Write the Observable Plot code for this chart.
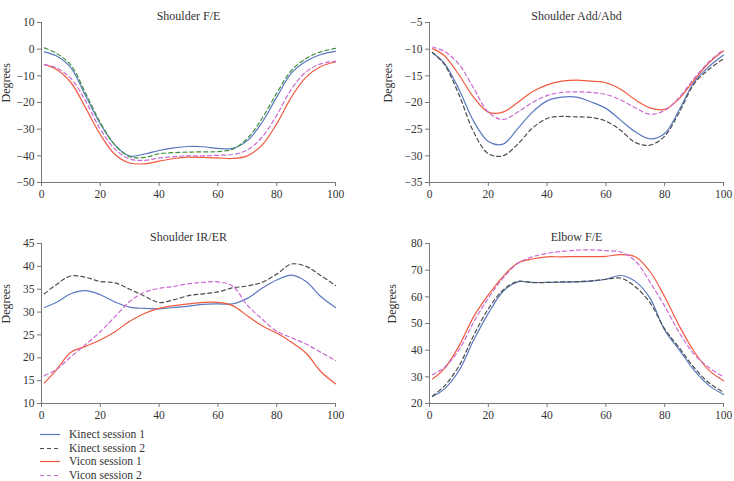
<!DOCTYPE html>
<html>
<head>
<meta charset="utf-8">
<script src="https://cdn.jsdelivr.net/npm/d3@7"></script>
<script src="https://cdn.jsdelivr.net/npm/@observablehq/plot@0.6"></script>
<style>
  body { margin: 0; background: #fff; }
  #chart { position: relative; width: 734px; height: 481px; overflow: hidden; font-family: "Liberation Serif", serif; }
  .panel { position: absolute; }
  .legend { position: absolute; left: 40px; top: 428px; font-size: 11.6px; color: #333; }
  .legend .row { height: 13.5px; line-height: 13.5px; display: flex; align-items: center; white-space: nowrap; }
  .legend svg { margin-right: 9px; }
</style>
</head>
<body>
<div id="chart"></div>
<script>
// Percent of movement cycle
const pct = [1, 5, 10, 15, 20, 25, 30, 35, 40, 45, 50, 55, 60, 65, 70, 75, 80, 85, 90, 95, 100];

const seriesNames = ["Kinect session 1", "Kinect session 2", "Vicon session 1", "Vicon session 2"];
const xTicks = [0, 20, 40, 60, 80, 100];

// Shoulder flexion/extension (degrees)
const feKinect1 = [-1, -2.5, -7, -17.5, -28, -36, -40.1, -39.3, -38, -37, -36.5, -36.6, -37.2, -37.2, -34.3, -27.5, -18, -9, -4.5, -2, -0.8];
const feKinect2 = [0.5, -1.5, -6, -16.5, -27.5, -36, -40.3, -40.6, -39.2, -38.8, -38.6, -38.5, -38.4, -37.5, -33.5, -26, -16.5, -8, -3.5, -1, 0.3];
const feVicon1 = [-5.8, -7.5, -12.5, -22, -32, -39.5, -42.7, -43, -42, -41, -40.5, -40.6, -40.8, -41, -40, -36, -28, -18, -10.5, -6.5, -4.8];
const feVicon2 = [-5.8, -7, -11, -19.5, -30, -37.5, -41.2, -41.7, -40.8, -40.3, -40, -40, -39.8, -39.5, -37.8, -33, -24.8, -15, -8.5, -5.5, -4.5];
const feTicks = [10, 0, -10, -20, -30, -40, -50];

// Shoulder adduction/abduction (degrees)
const aaKinect1 = [-10.7, -12.6, -17.5, -23.5, -27.3, -27.8, -24.9, -21.8, -19.7, -19, -19, -19.9, -21.1, -23.3, -25.5, -26.8, -25.8, -21.3, -16.2, -13.3, -11.1];
const aaKinect2 = [-10.6, -12.8, -18.5, -25.5, -29.6, -30, -27.8, -24.8, -23, -22.6, -22.7, -22.8, -23.5, -25.2, -27.5, -28, -26.3, -21.8, -16.5, -13.8, -11.8];
const aaVicon1 = [-9.9, -11.2, -14.8, -19, -21.8, -21.8, -20, -18, -16.7, -16, -15.8, -16, -16.3, -17.5, -19.5, -21, -21.3, -19.2, -15.8, -12.6, -10.3];
const aaVicon2 = [-9.6, -10.4, -12.8, -17.3, -21.8, -23.2, -21.8, -20, -18.7, -18.1, -18, -18.1, -18.5, -19.5, -21, -22.2, -21.5, -19, -15.5, -12.4, -10.1];
const aaTicks = [-5, -10, -15, -20, -25, -30, -35];

// Shoulder internal/external rotation (degrees)
const reKinect1 = [31, 32.1, 34, 34.7, 33.8, 32.2, 31.1, 30.8, 30.7, 31, 31.3, 31.7, 31.8, 31.8, 33, 35.2, 37, 38.1, 36.7, 33.4, 31];
const reKinect2 = [34, 36, 37.9, 37.6, 36.7, 36.4, 35, 33.5, 32.1, 32.7, 33.6, 34, 34.4, 35.3, 35.7, 36.5, 38.3, 40.5, 40, 38, 35.8];
const reVicon1 = [14.5, 17.3, 21.2, 22.5, 23.9, 25.7, 28, 29.7, 30.8, 31.4, 31.8, 32.1, 32.1, 31.4, 29.2, 27, 25.4, 23.4, 21, 17, 14.3];
const reVicon2 = [16.1, 17.4, 20.2, 22.9, 25.7, 29, 32.3, 34.3, 35.2, 35.6, 36.2, 36.5, 36.6, 35.7, 31.5, 28.5, 25.8, 24.4, 23, 21.2, 19.4];
const reTicks = [45, 40, 35, 30, 25, 20, 15, 10];

// Elbow flexion/extension (degrees)
const efKinect1 = [22.6, 25.4, 32.3, 43.7, 53.8, 62, 65.6, 65.4, 65.4, 65.5, 65.6, 65.9, 66.6, 68, 65.8, 59.5, 47.5, 40, 32.5, 26.8, 23.4];
const efKinect2 = [22.8, 26.5, 34, 45.5, 55.5, 62.5, 65.8, 65.3, 65.4, 65.6, 65.7, 66, 66.6, 67, 63.8, 57.8, 48, 40.8, 33.5, 27.8, 24.2];
const efVicon1 = [29.2, 33, 41.5, 52.5, 60.7, 67.6, 72.7, 74.2, 75, 75, 75.1, 75.1, 75.2, 75.8, 75, 69.5, 60, 49, 39.5, 32.5, 28.5];
const efVicon2 = [30.8, 33.5, 40, 50.5, 59.5, 67, 72.5, 75, 76.3, 77, 77.5, 77.6, 77.3, 76.8, 73.5, 65.5, 56.5, 46.5, 38.5, 33.5, 30];
const efTicks = [80, 70, 60, 50, 40, 30, 20];

// Line styles per series
const styles = [
  {stroke: "#5a78c0", dash: null},
  {stroke: "#4d4d4d", dash: "4,3"},
  {stroke: "#ef5a3f", dash: null},
  {stroke: "#c96ad0", dash: "4,3"}
];

const panels = [
  {title: "Shoulder F/E", series: [feKinect1, feKinect2, feVicon1, feVicon2], ticks: feTicks,
   left: 0, top: 0, marginLeft: 41, marginRight: 32, labelOffset: 35, kinect2Stroke: "#3f8f3f"},
  {title: "Shoulder Add/Abd", series: [aaKinect1, aaKinect2, aaVicon1, aaVicon2], ticks: aaTicks,
   left: 367, top: 0, marginLeft: 62, marginRight: 11, labelOffset: 41},
  {title: "Shoulder IR/ER", series: [reKinect1, reKinect2, reVicon1, reVicon2], ticks: reTicks,
   left: 0, top: 221, marginLeft: 41, marginRight: 32, labelOffset: 35},
  {title: "Elbow F/E", series: [efKinect1, efKinect2, efVicon1, efVicon2], ticks: efTicks,
   left: 367, top: 221, marginLeft: 62, marginRight: 11, labelOffset: 37}
];

const chart = document.getElementById("chart");

for (const p of panels) {
  const yMin = d3.min(p.ticks), yMax = d3.max(p.ticks);
  const lines = p.series.map((vals, i) => {
    const data = pct.map((x, j) => ({x, y: vals[j], series: seriesNames[i]}));
    const stroke = (i === 1 && p.kinect2Stroke) ? p.kinect2Stroke : styles[i].stroke;
    return Plot.line(data, {
      x: "x", y: "y", stroke, strokeWidth: 1.2,
      strokeDasharray: styles[i].dash, curve: "catmull-rom"
    });
  });
  const svg = Plot.plot({
    width: 367, height: 215,
    marginLeft: p.marginLeft, marginRight: p.marginRight, marginTop: 22, marginBottom: 33,
    x: {domain: [0, 100]},
    y: {domain: [yMin, yMax]},
    style: {fontFamily: "'Liberation Serif', serif", fontSize: "11.5px", color: "#333", background: "transparent"},
    marks: [
      Plot.axisX({ticks: xTicks, tickSize: 4, tickPadding: 3, label: null, stroke: "#777", fill: "#333"}),
      Plot.axisY({ticks: p.ticks, tickSize: 4, tickPadding: 3, label: null, stroke: "#777", fill: "#333"}),
      Plot.ruleX([0], {stroke: "#777"}),
      Plot.ruleY([yMin], {stroke: "#777"}),
      ...lines,
      Plot.text([p.title], {frameAnchor: "top", dy: -11, fontSize: 12, fill: "#333"}),
      Plot.text(["Degrees"], {frameAnchor: "left", dx: -p.labelOffset, rotate: -90, fontSize: 12, fill: "#333"})
    ]
  });
  svg.classList.add("panel");
  svg.style.left = p.left + "px";
  svg.style.top = p.top + "px";
  chart.appendChild(svg);
}

// Legend
const legend = document.createElement("div");
legend.className = "legend";
seriesNames.forEach((name, i) => {
  const row = document.createElement("div");
  row.className = "row";
  const dash = styles[i].dash ? ` stroke-dasharray="${styles[i].dash}"` : "";
  row.innerHTML = `<svg width="20" height="13"><line x1="0" x2="20" y1="6.5" y2="6.5" stroke="${styles[i].stroke}" stroke-width="1.2"${dash}/></svg><span>${name}</span>`;
  legend.appendChild(row);
});
chart.appendChild(legend);
</script>
</body>
</html>
